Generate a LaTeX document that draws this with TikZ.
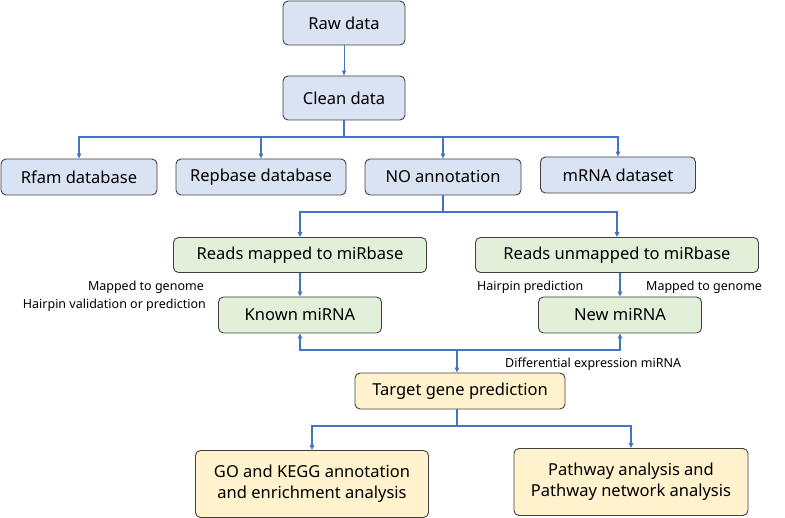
\documentclass[tikz,border=0pt]{standalone}
\usepackage{fontspec}
\setmainfont{Noto Sans}
\usetikzlibrary{arrows.meta}
\definecolor{bfill}{HTML}{DAE3F3}
\definecolor{gfill}{HTML}{E2F0D9}
\definecolor{yfill}{HTML}{FFF2CC}
\definecolor{arr}{HTML}{4472C4}
\begin{document}
\begin{tikzpicture}[x=1pt,y=-1pt,
 box/.style={draw=black!75,line width=0.9pt,rounded corners=5pt,inner sep=0pt,font=\fontsize{16.5}{21}\selectfont,align=center},
 bb/.style={box,fill=bfill},gb/.style={box,fill=gfill},yb/.style={box,fill=yfill},
 ar/.style={draw=arr,line width=1.2pt,-{Triangle[length=5pt,width=4.5pt]}},
 ln/.style={draw=arr,line width=1.2pt},
 lab/.style={font=\fontsize{12.5}{14}\selectfont,inner sep=0pt}]
\useasboundingbox (0,0) rectangle (785,518);
\node[bb,minimum width=122,minimum height=44] (raw) at (344,23) {Raw data};
\node[bb,minimum width=122,minimum height=44] (clean) at (344,98) {Clean data};
\node[bb,minimum width=156,minimum height=36] (rfam) at (79,177) {Rfam database};
\node[bb,minimum width=170,minimum height=36] (rep) at (261,177) {Repbase database};
\node[bb,minimum width=156,minimum height=36] (no) at (443,177) {NO annotation};
\node[bb,minimum width=155,minimum height=36] (mrna) at (618,175) {mRNA dataset};
\node[gb,minimum width=253,minimum height=35] (rm) at (300,255) {Reads mapped to miRbase};
\node[gb,minimum width=283,minimum height=35] (ru) at (617,255) {Reads unmapped to miRbase};
\node[gb,minimum width=163,minimum height=36] (known) at (300,315) {Known miRNA};
\node[gb,minimum width=163,minimum height=36] (new) at (620,315) {New miRNA};
\node[yb,minimum width=210,minimum height=36] (tgt) at (460,391) {Target gene prediction};
\node[yb,minimum width=233,minimum height=67] (go) at (312,484) {GO and KEGG annotation\\and enrichment analysis};
\node[yb,minimum width=234,minimum height=67] (pw) at (631,482) {Pathway analysis and\\Pathway network analysis};
\draw[draw=arr,line width=0.5pt,-{Triangle[length=5pt,width=4pt]}] (raw) -- (clean);
\coordinate (b1) at (344,137);
\draw[ln] (clean) -- (b1);
\draw[ar] (b1) -| (rfam);
\draw[ar] (b1) -| (rep);
\draw[ar] (b1) -| (no);
\draw[ar] (b1) -| (mrna);
\coordinate (b2) at (443,212);
\draw[ln] (no) -- (b2);
\draw[ar] (b2) -| (rm);
\draw[ar] (b2) -| (ru);
\draw[ar] (rm) -- (known);
\draw[ar] (ru.south -| new) -- (new);
\coordinate (b3) at (457,350);
\draw[ar] (b3) -| (known);
\draw[ar] (b3) -| (new);
\draw[ar] (b3) -- (b3 |- tgt.north);
\coordinate (b4) at (457,426);
\draw[ln] (b4 |- tgt.south) -- (b4);
\draw[ar] (b4) -| (go);
\draw[ar] (b4) -| (pw);
\node[lab,anchor=east] (l1) at (204,287) {Mapped to genome};
\node[lab,anchor=east] (l2) at (206,305) {Hairpin validation or prediction};
\node[lab,anchor=west] (l3) at (477,287) {Hairpin prediction};
\node[lab,anchor=west] (l4) at (646,287) {Mapped to genome};
\node[lab,anchor=west] (l5) at (505,364) {Differential expression miRNA};
\end{tikzpicture}
\end{document}
